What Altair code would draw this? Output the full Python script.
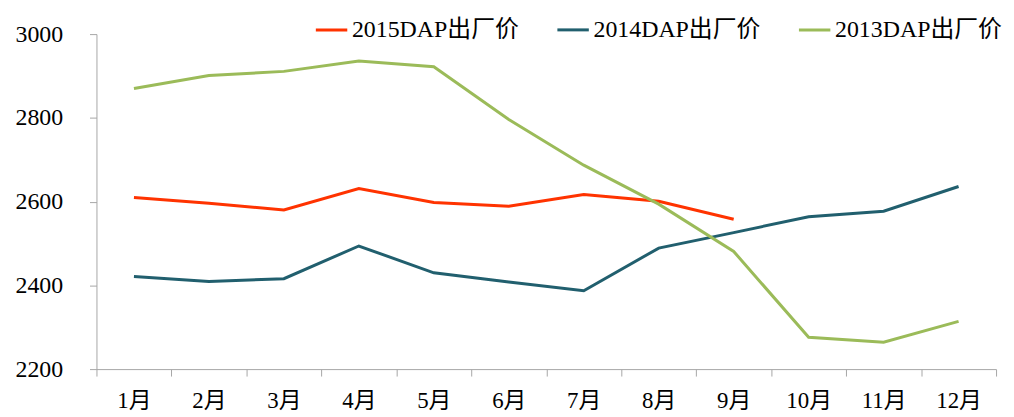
import altair as alt
import pandas as pd

months = ["1月", "2月", "3月", "4月", "5月", "6月", "7月", "8月", "9月", "10月", "11月", "12月"]
series_names = ["2015DAP出厂价", "2014DAP出厂价", "2013DAP出厂价"]
v2015 = [2610, 2596, 2580, 2631, 2598, 2589, 2617, 2601, 2558]
v2014 = [2421, 2409, 2416, 2494, 2430, 2408, 2387, 2489, 2526, 2564, 2577, 2636]
v2013 = [2870, 2901, 2911, 2936, 2922, 2796, 2687, 2594, 2481, 2276, 2264, 2314]
colors = ["#FF3300", "#215F6E", "#9BBB59"]

rows = []
for name, vals in zip(series_names, [v2015, v2014, v2013]):
    for m, v in zip(months, vals):
        rows.append({"month": m, "value": v, "series": name})
df = pd.DataFrame(rows)

FONT = "'Liberation Serif', 'Noto Sans CJK SC'"

chart = alt.Chart(df).mark_line(strokeWidth=3).encode(
    x=alt.X("month:N", sort=months, bandPosition=0.5,
            scale=alt.Scale(type="band", paddingInner=0, paddingOuter=0),
            axis=alt.Axis(title=None, labelAngle=0, tickBand="extent", tickSize=7,
                          labelPadding=14, domainColor="#A6A6A6", tickColor="#A6A6A6",
                          labelFont=FONT, labelFontSize=23, labelColor="#000000", grid=False)),
    y=alt.Y("value:Q", scale=alt.Scale(domain=[2200, 3000], nice=False, zero=False),
            axis=alt.Axis(title=None, values=[2200, 2400, 2600, 2800, 3000], tickSize=7,
                          format="d", labelPadding=27, domainColor="#A6A6A6", tickColor="#A6A6A6",
                          labelFont=FONT, labelFontSize=24, labelColor="#000000", grid=False)),
    color=alt.Color("series:N", sort=series_names,
                    scale=alt.Scale(domain=series_names, range=colors),
                    legend=alt.Legend(title=None, orient="none", legendX=219, legendY=-22,
                                      direction="horizontal", symbolType="stroke",
                                      symbolStrokeWidth=3, symbolSize=1000,
                                      labelFont=FONT, labelFontSize=24, labelColor="#000000",
                                      columnPadding=31, labelOffset=3, labelLimit=400)),
).properties(
    width=905, height=337,
    autosize=alt.AutoSizeParams(type="none"),
    padding={"left": 89, "top": 25, "right": 10, "bottom": 60},
).configure_view(stroke=None)

chart.save("out.html", embed_options={"renderer": "svg", "actions": False})
